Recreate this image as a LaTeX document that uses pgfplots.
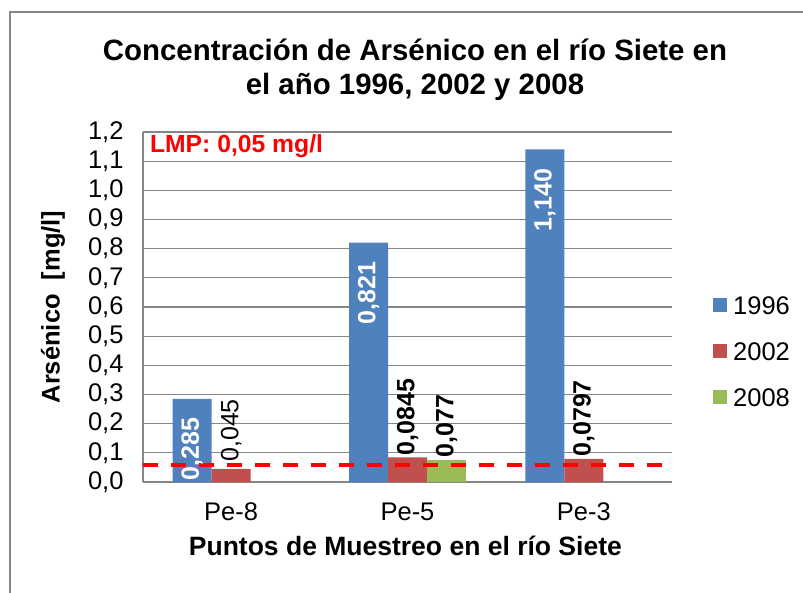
\documentclass[border=0pt]{standalone}
\usepackage{pgfplots}
\pgfplotsset{compat=1.18}
\usepackage{fontspec}
\setmainfont{Liberation Sans}
\definecolor{cblue}{HTML}{4F81BD}
\definecolor{cred}{HTML}{C0504D}
\definecolor{cgreen}{HTML}{9BBB59}
\definecolor{gridgray}{RGB}{134,134,134}
\newcommand{\fs}[1]{\fontsize{#1}{#1}\selectfont}
\begin{document}
\begin{tikzpicture}
\useasboundingbox (0pt,0pt) rectangle (803pt,592pt);
\draw[gridgray, line width=1.3pt] (10pt,-20pt) -- (10pt,580pt) -- (830pt,580pt);
\node[anchor=base, font=\fs{29.4}\bfseries, inner sep=0pt] at (415pt,531pt) {Concentración de Arsénico en el río Siete en};
\node[anchor=base, font=\fs{29.4}\bfseries, inner sep=0pt] at (415pt,497pt) {el año 1996, 2002 y 2008};
\begin{axis}[
  at={(143pt,110pt)}, anchor=south west, scale only axis,
  width=529pt, height=350pt,
  ybar=0pt, bar width=39pt,
  xmin=-0.5, xmax=2.5, ymin=0, ymax=1.2,
  xtick={0,1,2}, xticklabels={Pe-8,Pe-5,Pe-3},
  ytick={0,0.1,0.2,0.3,0.4,0.5,0.6,0.7,0.8,0.9,1.0,1.1,1.2},
  axis lines*=left, axis line style={-, gridgray, line width=1.3pt},
  ymajorgrids, grid style={gridgray, line width=1.3pt},
  major tick length=0pt,
  /pgf/number format/use comma,
  /pgf/number format/fixed,
  /pgf/number format/fixed zerofill,
  /pgf/number format/precision=1,
  /pgf/number format/assume math mode=true,
  ticklabel style={font=\fs{25.5}},
  yticklabel style={xshift=-16pt},
  xticklabel style={yshift=-17pt},
  xlabel={Puntos de Muestreo en el río Siete},
  ylabel={Arsénico\ \ [mg/l]},
  every axis x label/.style={at={(axis description cs:0.496,-0.2114)}, anchor=base, font=\fs{26.5}\bfseries},
  every axis y label/.style={at={(axis description cs:-0.170,0.5)}, rotate=90, anchor=center, font=\fs{25.5}\bfseries},
  legend style={at={(axis description cs:1.0775,0.374)}, anchor=west, draw=none, fill=none,
    inner sep=0pt, font=\fs{25.5}, row sep=28pt,
    nodes={inner sep=0pt, text height=18pt, text depth=0pt},
    /tikz/every odd column/.append style={column sep=6pt}},
  legend cell align=left,
  legend image code/.code={\fill[#1] (0pt,-7pt) rectangle (14pt,7pt);},
]
\addplot[fill=cblue, draw=none, bar shift=-39pt, point meta=explicit symbolic,
  nodes near coords,
  nodes near coords style={font=\fs{25}\bfseries, text=white, rotate=90, anchor=east, inner sep=0pt, inner xsep=19pt}]
  coordinates {(0,0.285) [0,285] (1,0.821) [0,821] (2,1.140) [1,140]};
\addplot[fill=cred, draw=none, bar shift=0pt, point meta=explicit symbolic,
  nodes near coords,
  nodes near coords style={font=\fs{25}\bfseries, text=black, rotate=90, anchor=west, inner sep=0pt, inner xsep=2pt}]
  coordinates {(0,0.045) [{\mdseries\hspace{5pt}0,045}] (1,0.0845) [0,0845] (2,0.0797) [0,0797]};
\addplot[fill=cgreen, draw=none, bar shift=39pt, point meta=explicit symbolic,
  nodes near coords,
  nodes near coords style={font=\fs{25}\bfseries, text=black, rotate=90, anchor=west, inner sep=0pt, inner xsep=2pt}]
  coordinates {(1,0.077) [0,077]};
\legend{1996,2002,2008}
\addplot[red, line width=4pt, dash pattern=on 15pt off 13pt, sharp plot, forget plot]
  coordinates {(-0.5,0.06) (2.449,0.06)};
\node[anchor=base west, inner sep=0pt, text=red, font=\fs{24.7}\bfseries] at (rel axis cs:0.013,0.94) {LMP: 0,05 mg/l};
\end{axis}
\end{tikzpicture}
\end{document}
